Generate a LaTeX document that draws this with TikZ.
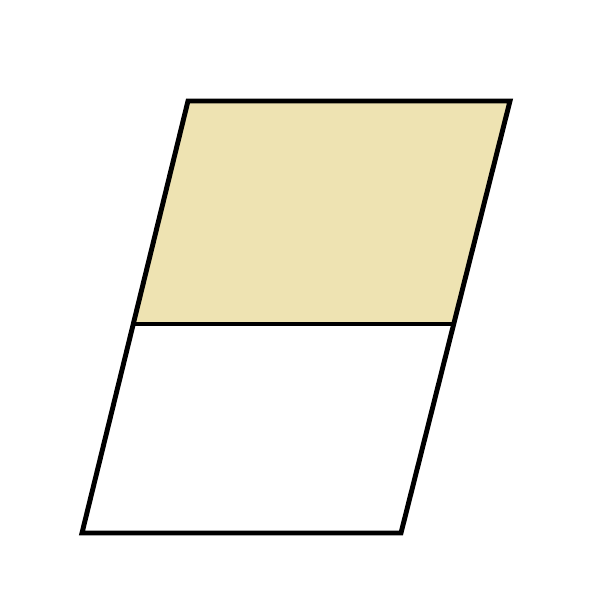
\documentclass[tikz,border=0pt]{standalone}
\definecolor{sandfill}{RGB}{238,227,178}
\begin{document}
\begin{tikzpicture}
    \useasboundingbox (0,0) rectangle (6,6);

    % Corners of the slanted panel
    \coordinate (bl) at (0.82,0.67);
    \coordinate (br) at (4.01,0.67);
    \coordinate (ml) at (1.33,2.76);
    \coordinate (mr) at (4.54,2.76);
    \coordinate (tl) at (1.88,4.99);
    \coordinate (tr) at (5.10,4.99);

    % Shaded upper half
    \fill[sandfill] (ml) -- (tl) -- (tr) -- (mr) -- cycle;

    % Outline and dividing line
    \draw[line width=1.4pt, line join=miter] (bl) -- (tl) -- (tr) -- (br) -- cycle;
    \draw[line width=1.4pt] (ml) -- (mr);
\end{tikzpicture}
\end{document}
